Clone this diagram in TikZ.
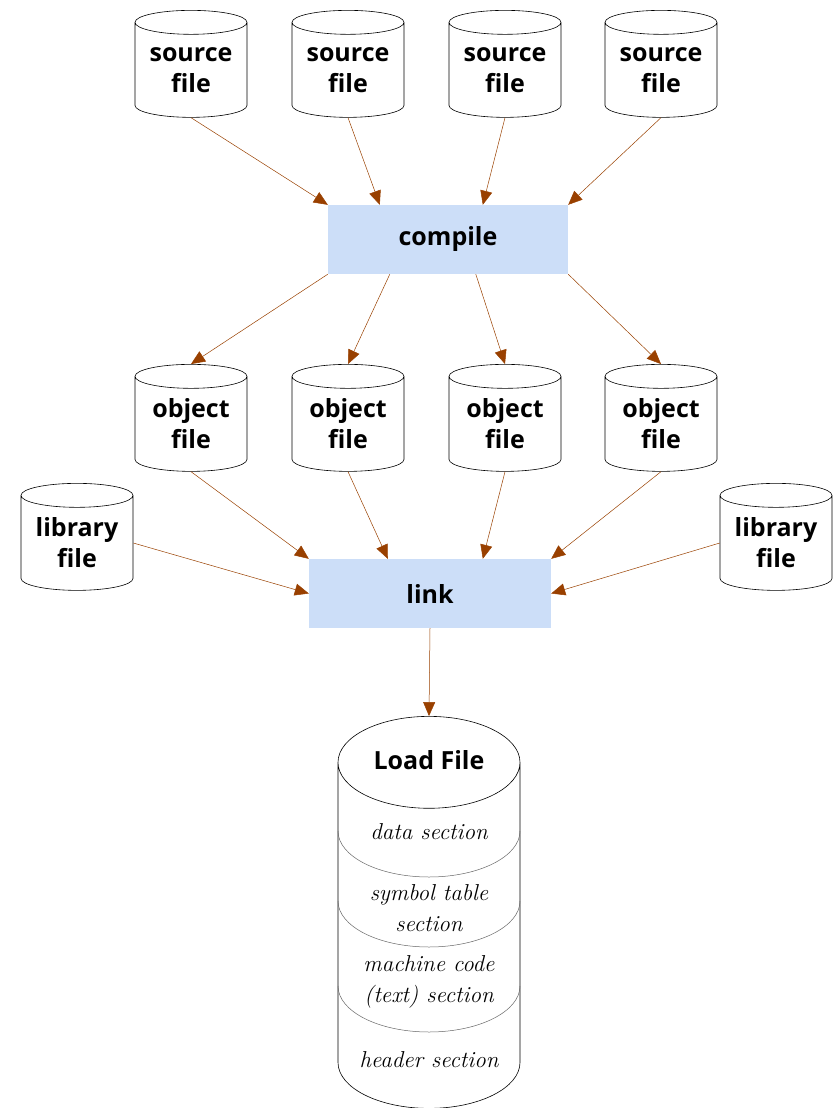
\documentclass[tikz,border=0pt]{standalone}
\usepackage{fontspec}
\setsansfont{Open Sans}
\usetikzlibrary{shapes.geometric,arrows.meta}

\definecolor{boxblue}{RGB}{204,222,248}
\definecolor{flowbrown}{RGB}{153,64,0}

\tikzset{
    filecyl/.style={cylinder, shape border rotate=90, draw=black, line width=0.6pt,
        aspect=0.214, text width=112pt, minimum height=107pt, inner sep=0pt,
        align=center, font=\sffamily\bfseries\fontsize{25}{31}\selectfont},
    stepbox/.style={rectangle, fill=boxblue, minimum width=240pt, minimum height=69pt,
        font=\sffamily\bfseries\fontsize{25}{31}\selectfont},
    flow/.style={flowbrown, line width=0.5pt, -{Triangle[length=14pt,width=12pt]}},
    sectext/.style={align=center, font=\itshape\fontsize{23}{31}\selectfont}
}

\begin{document}
\begin{tikzpicture}[x=1pt, y=-1pt]
    \useasboundingbox (0,0) rectangle (836,1108);

    % source files
    \node[filecyl] (src1) at (191,70) {source\\file};
    \node[filecyl] (src2) at (348,70) {source\\file};
    \node[filecyl] (src3) at (505,70) {source\\file};
    \node[filecyl] (src4) at (661,70) {source\\file};

    \node[stepbox] (compile) at (448,239.5) {compile};

    % object files
    \node[filecyl] (obj1) at (191,424) {object\\file};
    \node[filecyl] (obj2) at (348,424) {object\\file};
    \node[filecyl] (obj3) at (505,424) {object\\file};
    \node[filecyl] (obj4) at (661,424) {object\\file};

    % library files
    \node[filecyl] (lib1) at (77,543) {library\\file};
    \node[filecyl] (lib2) at (776,543) {library\\file};

    \node[stepbox, minimum width=242pt] (link) at (430,593.5) {link};

    % load file with its sections
    \node[cylinder, shape border rotate=90, draw=black, line width=0.6pt, aspect=0.505,
        text width=182pt, inner sep=0pt, minimum height=392pt] (load) at (429,935.5) {};
    \draw[gray!80!black, line width=0.5pt] (338,831) arc[start angle=180, end angle=360, x radius=91pt, y radius=46pt];
    \draw[gray!80!black, line width=0.5pt] (338,901) arc[start angle=180, end angle=360, x radius=91pt, y radius=46pt];
    \draw[gray!80!black, line width=0.5pt] (338,986) arc[start angle=180, end angle=360, x radius=91pt, y radius=46pt];

    \node[font=\sffamily\bfseries\fontsize{25}{31}\selectfont] (loadtitle) at (429,760) {Load File};
    \node[sectext] (datasec) at (429,832) {data section};
    \node[sectext] (symsec) at (429,908) {symbol table\\section};
    \node[sectext] (codesec) at (429,982) {machine code\\(text) section};
    \node[sectext] (headsec) at (429,1060) {header section};

    % arrows
    \draw[flow] (src1.south) -- (compile.north west);
    \draw[flow] (src2.south) -- ([xshift=52pt]compile.north west);
    \draw[flow] (src3.south) -- ([xshift=155pt]compile.north west);
    \draw[flow] (src4.south) -- (compile.north east);

    \draw[flow] (compile.south west) -- (obj1.north);
    \draw[flow] ([xshift=62pt]compile.south west) -- (obj2.north);
    \draw[flow] ([xshift=148pt]compile.south west) -- (obj3.north);
    \draw[flow] (compile.south east) -- (obj4.north);

    \draw[flow] (obj1.south) -- (link.north west);
    \draw[flow] (obj2.south) -- ([xshift=79pt]link.north west);
    \draw[flow] (obj3.south) -- ([xshift=174pt]link.north west);
    \draw[flow] (obj4.south) -- (link.north east);

    \draw[flow] (lib1.east) -- (link.west);
    \draw[flow] (lib2.west) -- (link.east);

    \draw[flow] (link.south) -- (load.north);
\end{tikzpicture}
\end{document}
